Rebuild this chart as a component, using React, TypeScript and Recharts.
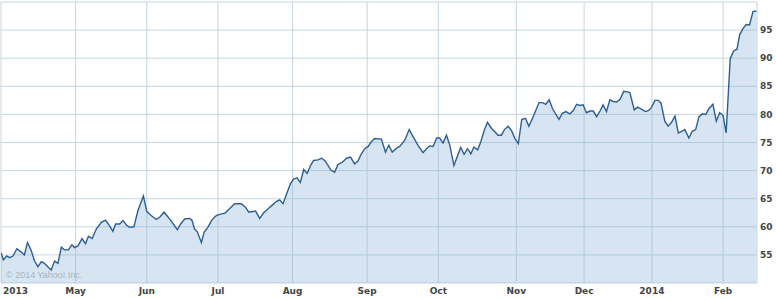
import React from 'react';
import { ComposedChart, Area, XAxis, YAxis, CartesianGrid } from 'recharts';

// trading-day index (from the first day shown) and closing price
const days = [
  0, 0.7, 1.7, 2.5, 3.5, 4.7, 6.0, 6.9, 7.8, 8.9,
  9.9, 10.9, 11.9, 12.8, 13.8, 14.8, 15.8, 16.8, 17.8, 18.7,
  19.9, 20.9, 21.7, 22.7, 23.9, 24.9, 25.8, 26.9, 28.1, 29.6,
  30.8, 32.0, 33.0, 33.8, 35.0, 36.0, 37.0, 37.9, 39.2, 40.4,
  42.0, 43.0, 44.3, 45.8, 46.8, 48.1, 49.2, 50.7, 52.0, 53.0,
  54.2, 55.6, 56.3, 57.1, 57.9, 59.1, 59.9, 61.0, 62.2, 63.5,
  65.0, 66.0, 67.4, 68.9, 70.9, 72.1, 73.1, 75.1, 76.3, 77.5,
  78.8, 80.1, 81.2, 82.2, 83.2, 84.4, 85.4, 86.3, 87.3, 88.3,
  89.3, 90.3, 91.3, 92.2, 93.5, 94.5, 95.5, 96.5, 97.3, 98.4,
  99.4, 100.7, 101.9, 103.1, 104.3, 105.3, 106.3, 107.3, 108.3, 109.3,
  110.2, 112.2, 113.4, 114.4, 115.4, 116.7, 117.6, 119.1, 120.4, 121.6,
  123.0, 124.5, 125.5, 126.5, 127.5, 128.5, 129.4, 130.4, 131.4, 132.4,
  133.6, 134.7, 135.6, 136.6, 137.6, 138.6, 139.5, 140.6, 141.5, 142.5,
  143.5, 144.7, 145.7, 146.6, 147.6, 148.5, 149.6, 150.6, 151.6, 152.6,
  153.6, 154.7, 155.7, 156.7, 157.8, 158.7, 159.7, 160.7, 161.7, 162.7,
  163.7, 164.6, 165.6, 166.6, 167.8, 168.8, 169.8, 170.8, 171.7, 172.7,
  173.7, 174.7, 175.7, 176.7, 177.6, 178.6, 179.6, 180.6, 181.6, 182.6,
  183.7, 184.7, 185.5, 186.8, 187.8, 189.0, 190.1, 191.1, 191.9, 192.9,
  193.9, 194.7, 195.8, 196.8, 197.8, 198.8, 199.8, 200.8, 201.7, 202.9,
  203.9, 204.9, 205.9, 206.9, 207.9, 208.8, 210.0, 211.0, 212.0, 213.0,
  213.9, 215.1, 216.1, 217.1, 217.9, 218.9, 219.8, 220.8, 221.8, 222.8,
];

const prices = [
  55.4, 54.1, 54.8, 54.5, 54.8, 56.1, 55.5, 55.0, 57.2, 55.8,
  53.9, 52.9, 53.8, 53.5, 52.9, 52.3, 53.9, 53.5, 56.4, 55.9,
  55.9, 56.8, 56.3, 56.6, 57.9, 57.0, 58.3, 57.9, 59.6, 60.8,
  61.2, 60.2, 59.2, 60.5, 60.5, 61.1, 60.3, 59.9, 60.0, 62.9,
  65.5, 62.7, 62.0, 61.3, 61.7, 62.6, 61.8, 60.6, 59.5, 60.5,
  61.4, 61.5, 61.2, 59.6, 59.1, 57.2, 59.0, 59.9, 61.2, 62.0,
  62.3, 62.4, 63.2, 64.1, 64.1, 63.5, 62.6, 62.8, 61.5, 62.5,
  63.2, 63.9, 64.5, 64.8, 64.1, 66.1, 67.7, 68.5, 68.7, 67.9,
  70.2, 69.5, 70.9, 71.8, 71.9, 72.2, 71.8, 70.9, 70.1, 69.7,
  71.1, 71.5, 72.2, 72.4, 71.2, 71.7, 73.0, 73.9, 74.3, 75.2,
  75.7, 75.6, 73.3, 74.5, 73.3, 74.0, 74.3, 75.4, 77.3, 76.0,
  74.5, 73.2, 73.9, 74.4, 74.3, 75.8, 75.8, 74.9, 76.3, 74.5,
  70.9, 72.7, 74.1, 72.9, 73.9, 73.0, 74.2, 73.7, 75.1, 77.1,
  78.6, 77.5, 76.9, 76.3, 76.3, 77.3, 77.9, 77.1, 75.7, 74.8,
  79.1, 79.3, 77.9, 79.2, 80.8, 82.1, 82.1, 81.8, 82.6, 81.0,
  80.0, 79.1, 80.2, 80.5, 80.1, 80.7, 81.8, 81.6, 81.7, 80.3,
  80.6, 80.6, 79.6, 80.6, 81.7, 80.5, 82.6, 82.3, 82.2, 82.7,
  84.1, 84.0, 83.9, 80.8, 81.3, 80.9, 80.5, 80.7, 81.3, 82.5,
  82.5, 82.0, 78.8, 77.9, 78.6, 79.7, 76.7, 77.0, 77.3, 75.8,
  77.0, 77.3, 79.6, 80.1, 80.0, 81.0, 81.8, 78.8, 80.3, 79.8,
  76.7, 89.9, 91.3, 91.6, 94.2, 95.3, 96.0, 95.9, 98.3, 98.4,
];

const monthTicks = [0, 22, 43, 64, 86, 108, 129, 152, 172, 192, 213];
const monthLabels = ['2013', 'May', 'Jun', 'Jul', 'Aug', 'Sep', 'Oct', 'Nov', 'Dec', '2014', 'Feb'];
const lastDay = 223;
const priceTicks = [55, 60, 65, 70, 75, 80, 85, 90, 95];
const priceMin = 50;
const priceMax = 100;

const data = days.map((d, i) => ({ day: d, price: prices[i] }));

const FONT = '"DejaVu Sans", Verdana, sans-serif';
const LABEL_COLOR = '#454545';

const XTick = (props: any) => {
  const { x, y, payload } = props;
  const idx = monthTicks.indexOf(payload.value);
  if (idx < 0) return null;
  const first = idx === 0;
  return (
    <text
      x={first ? x + 2 : x}
      y={y}
      dy="0.71em"
      textAnchor={first ? 'start' : 'middle'}
      fontFamily={FONT}
      fontWeight="bold"
      fontSize={9}
      fill={LABEL_COLOR}
    >
      {monthLabels[idx]}
    </text>
  );
};

const YTick = (props: any) => {
  const { x, y, payload } = props;
  if (!priceTicks.includes(payload.value)) return null;
  return (
    <text
      x={x}
      y={y}
      dy="0.355em"
      textAnchor="start"
      fontFamily={FONT}
      fontWeight="bold"
      fontSize={9}
      fill={LABEL_COLOR}
    >
      {payload.value}
    </text>
  );
};

export default function App() {
  return (
    <div style={{ position: 'absolute', left: 0, top: 0, width: 776, height: 299, background: '#fff' }}>
      <ComposedChart
        width={776}
        height={299}
        data={data}
        margin={{ top: 2, right: 0, left: 1, bottom: 0 }}
      >
        <CartesianGrid stroke="#c5d5e1" strokeWidth={1} />
        <XAxis
          dataKey="day"
          type="number"
          domain={[0, lastDay]}
          ticks={[...monthTicks, lastDay]}
          tick={<XTick />}
          axisLine={false}
          tickLine={false}
          tickSize={0}
          tickMargin={5}
          height={16}
          interval={0}
          allowDataOverflow
        />
        <YAxis
          orientation="right"
          type="number"
          domain={[priceMin, priceMax]}
          ticks={[priceMin, ...priceTicks, priceMax]}
          tick={<YTick />}
          axisLine={false}
          tickLine={false}
          tickSize={0}
          tickMargin={3}
          width={19}
          interval={0}
          allowDataOverflow
        />
        <Area
          type="linear"
          dataKey="price"
          stroke="#2d5e94"
          strokeWidth={1.4}
          fill="rgb(138,181,215)"
          fillOpacity={0.35}
          isAnimationActive={false}
          dot={false}
          activeDot={false}
        />
      </ComposedChart>
      <div
        style={{
          position: 'absolute',
          left: 6,
          top: 271,
          fontFamily: '"Liberation Sans", Arial, sans-serif',
          fontSize: 9,
          lineHeight: '9px',
          color: '#a9b4be',
          whiteSpace: 'nowrap',
        }}
      >
        © 2014 Yahoo! Inc.
      </div>
    </div>
  );
}
